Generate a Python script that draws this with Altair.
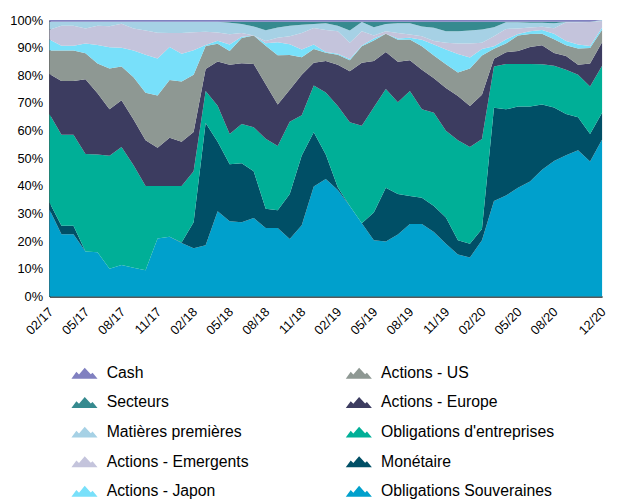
import altair as alt
import pandas as pd

months = ["02/17", "03/17", "04/17", "05/17", "06/17", "07/17", "08/17", "09/17", "10/17", "11/17", "12/17",
          "01/18", "02/18", "03/18", "04/18", "05/18", "06/18", "07/18", "08/18", "09/18", "10/18", "11/18", "12/18",
          "01/19", "02/19", "03/19", "04/19", "05/19", "06/19", "07/19", "08/19", "09/19", "10/19", "11/19", "12/19",
          "01/20", "02/20", "03/20", "04/20", "05/20", "06/20", "07/20", "08/20", "09/20", "10/20", "11/20", "12/20"]

tick_labels = ["02/17", "05/17", "08/17", "11/17", "02/18", "05/18", "08/18", "11/18", "02/19", "05/19",
               "08/19", "11/19", "02/20", "05/20", "08/20", "12/20"]

sov = [31.5, 22.5, 22.5, 16.3, 16, 10, 11.4, 10.4, 9.5, 21, 21.6, 19.3, 17.4, 18.5, 30.8, 27.3, 26.8, 28.4, 24.8,
       24.8, 20.8, 25.8, 39.8, 42.5, 38.5, 32.7, 26.5, 20.3, 19.9, 22.4, 26.2, 26.2, 23.3, 19.1, 15.2, 14.1, 20.3,
       34.5, 36.5, 39.3, 41.6, 45.8, 49, 51.1, 52.9, 48.8, 56.8]
mon = [2.5, 3.1, 3.1, 0, 0, 0, 0, 0, 0, 0, 0, 0.2, 9.4, 44.3, 25.2, 20.7, 21.4, 16.9, 6.9, 6.4, 16.3, 25.2, 19.6,
       8.9, 1, 0, 0, 10.1, 19.4, 14.7, 10.1, 9.5, 9.4, 9.5, 5.1, 5, 4.1, 33.8, 31.2, 29.4, 27.1, 23.7, 19.3, 14.9,
       11.9, 10, 9.7]
ent = [32, 32.9, 32.9, 35.2, 35.4, 40.9, 42.7, 37.1, 30.5, 19, 18.4, 20.5, 18.5, 11.5, 13, 11, 14.2, 15.9, 25.4,
       23.2, 26.1, 14.6, 16.9, 22.4, 29.4, 30.3, 35.3, 38.1, 35.8, 33.2, 38, 32, 33.8, 31.4, 36.2, 35, 32.6, 14.9,
       16.4, 15.4, 15.4, 14.5, 15.1, 16, 15.4, 17.2, 17]
eur = [14.5, 19.5, 19.5, 27.1, 22.1, 16.8, 16.9, 16.5, 16.5, 13.8, 17.4, 16, 14.2, 8, 16, 25.2, 22, 22.9, 19.7,
       15.1, 11.6, 14.6, 8.3, 11.4, 14.9, 18.5, 22.8, 16.7, 13.4, 14.6, 11.2, 14.3, 12.5, 15.4, 16, 14.8, 16, 2.8,
       4.3, 4.7, 6.2, 6.9, 4.6, 5, 3.6, 8.3, 8.5]
us = [8.5, 11, 11, 9.4, 10.8, 14.8, 12.2, 15.3, 17.2, 18.9, 20.9, 21.8, 20.7, 8.3, 6.4, 5, 9.1, 10.3, 13.9, 17.8,
      12.6, 6.4, 4.9, 3, 3.7, 4, 5.9, 7.4, 6.6, 8, 7.5, 8.5, 8.2, 8.6, 8.5, 13.6, 14.2, 3.6, 3.1, 5.6, 4.7, 4.2, 5,
      3.9, 5.9, 5.6, 4.5]
jap = [4, 1.7, 1.7, 3.5, 6.7, 7.7, 6.8, 9.7, 13.8, 13.4, 12, 10, 8.9, 0.4, 1.1, 2.3, 0.5, 0, 0.9, 4.7, 3.9, 2.8,
       1.7, 0.3, 0.3, 0.4, 0.3, 0.7, 0, 0.4, 0.6, 2.4, 4, 5.4, 6.7, 4, 2.3, 0.9, 1.5, 0.6, 1, 1.3, 2, 1.5, 1.5, 0.7,
       0.8]
emg = [3.5, 7.3, 7.3, 5.5, 7, 7.6, 8.7, 8, 8.7, 9.3, 5, 7.5, 6.5, 4.8, 3, 3.8, 1.3, 0, 0.8, 1.6, 2.9, 5.9, 5.9,
       7.9, 8.2, 5.9, 5.2, 1.1, 0.9, 2, 1.2, 1.3, 1.2, 2.4, 3.8, 5, 2.3, 3.7, 3.8, 2, 1.3, 1.2, 2, 6.8, 8, 8.7, 2.4]
mp = [2.9, 1.4, 1.4, 2.4, 1.4, 1.6, 0.7, 2.4, 3.2, 4, 4.1, 4.1, 3.8, 3.6, 3.9, 4.1, 3.3, 3.3, 3.9, 3.7, 3.8, 3,
      1.5, 2.5, 2, 4.4, 3.3, 3, 2.6, 3.6, 4.1, 3.5, 4.8, 4.2, 4.5, 4.7, 4.8, 3.2, 2.4, 2.2, 1.7, 1.4, 1.8, 0.1, 0.1,
      0, 0.3]
sec = [0, 0, 0, 0, 0, 0, 0, 0, 0, 0, 0, 0, 0, 0, 0, 0.4, 0.8, 1.7, 3.1, 2.1, 1.4, 1.1, 0.8, 0.5, 1.4, 3.2, 0.1, 2,
       0.8, 0.5, 0.5, 1.7, 2.2, 3.4, 3.4, 3.2, 2.8, 2, 0.2, 0.2, 0.4, 0.4, 0.5, 0.1, 0.1, 0.1, 0]
cash = [0.6, 0.6, 0.6, 0.6, 0.6, 0.6, 0.6, 0.6, 0.6, 0.6, 0.6, 0.6, 0.6, 0.6, 0.6, 0.6, 0.6, 0.6, 0.6, 0.6, 0.6,
        0.6, 0.6, 0.6, 0.6, 0.6, 0.6, 0.6, 0.6, 0.6, 0.6, 0.6, 0.6, 0.6, 0.6, 0.6, 0.6, 0.6, 0.6, 0.6, 0.6, 0.6,
        0.6, 0.6, 0.6, 0.6, 0]

# stacking order, bottom to top
stack_names = ["Obligations Souveraines", "Monétaire", "Obligations d'entreprises", "Actions - Europe",
               "Actions - US", "Actions - Japon", "Actions - Emergents", "Matières premières", "Secteurs", "Cash"]
stack_values = [sov, mon, ent, eur, us, jap, emg, mp, sec, cash]

colors = {
    "Cash": "#8080c0",
    "Secteurs": "#368a8f",
    "Matières premières": "#a6d1e5",
    "Actions - Emergents": "#c4c4dc",
    "Actions - Japon": "#78e0fa",
    "Actions - US": "#8e9893",
    "Actions - Europe": "#3c3c60",
    "Obligations d'entreprises": "#00af97",
    "Monétaire": "#004f66",
    "Obligations Souveraines": "#00a0cc",
}

# legend: two columns, filled column by column
legend_order = ["Cash", "Secteurs", "Matières premières", "Actions - Emergents", "Actions - Japon",
                "Actions - US", "Actions - Europe", "Obligations d'entreprises", "Monétaire",
                "Obligations Souveraines"]

rows = []
for rank, (name, vals) in enumerate(zip(stack_names, stack_values)):
    for m, v in zip(months, vals):
        rows.append({"month": m, "series": name, "value": v, "rank": rank})
df = pd.DataFrame(rows)

mountain = "M-1,0.42L-0.62,-0.1L-0.42,0.1L0.02,-0.42L0.48,0.08L0.62,-0.04L1,0.42Z"

font = "Liberation Sans"

chart = alt.Chart(df).mark_area(opacity=1).encode(
    x=alt.X("month:O", sort=months,
            scale=alt.Scale(type="point", padding=0),
            axis=alt.Axis(values=tick_labels, labelAngle=315, ticks=False, title=None, grid=False,
                          domainColor="#222222", domainWidth=1.5, labelFont=font, labelFontSize=13,
                          labelColor="#000000", labelPadding=9, labelOffset=-3)),
    y=alt.Y("value:Q", stack="normalize",
            scale=alt.Scale(domain=[0, 1], nice=False),
            axis=alt.Axis(format=".0%", values=[0, 0.1, 0.2, 0.3, 0.4, 0.5, 0.6, 0.7, 0.8, 0.9, 1.0],
                          ticks=False, title=None, grid=False, domainColor="#222222", domainWidth=1.5,
                          labelFont=font, labelFontSize=13, labelColor="#000000", labelPadding=7)),
    color=alt.Color("series:N",
                    scale=alt.Scale(domain=legend_order, range=[colors[n] for n in legend_order]),
                    legend=alt.Legend(title=None, orient="none", legendX=22, legendY=344, columns=2,
                                      symbolType=mountain, symbolSize=700, symbolStrokeWidth=0,
                                      symbolOpacity=1, labelFont=font, labelFontSize=16,
                                      labelColor="#000000", labelOffset=9, rowPadding=8,
                                      columnPadding=97, labelLimit=300)),
    order=alt.Order("rank:Q", sort="ascending"),
).properties(
    width=560,
    height=280,
    autosize=alt.AutoSizeParams(type="none"),
    padding={"left": 42, "top": 9, "right": 7, "bottom": 202},
).configure_view(stroke=None)

chart.save("out.html", embed_options={"renderer": "svg", "actions": False})
